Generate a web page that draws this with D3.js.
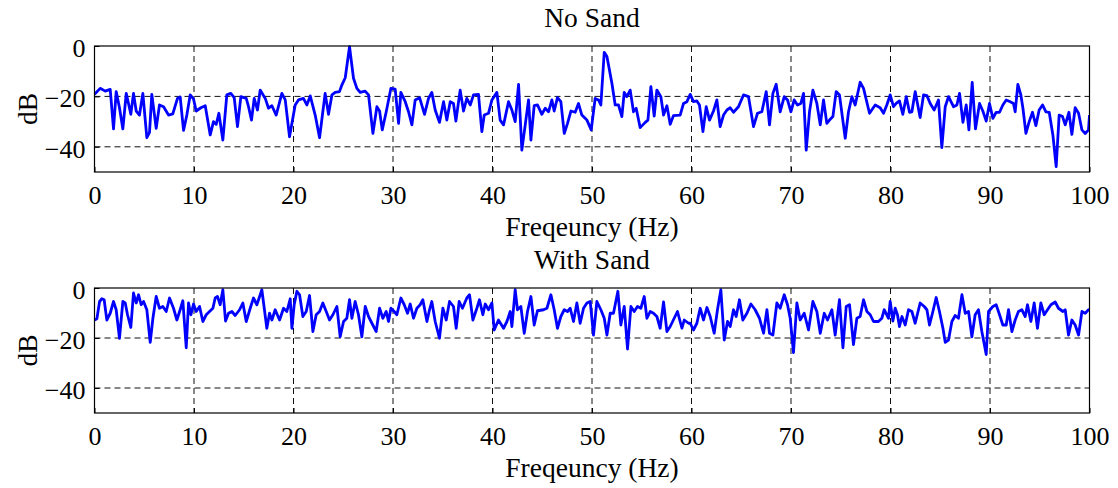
<!DOCTYPE html>
<html>
<head>
<meta charset="utf-8">
<script src="https://cdn.jsdelivr.net/npm/d3@7"></script>
<style>
  body { margin: 0; background: #fff; }
  text { font-family: "Liberation Serif", "Times New Roman", serif; fill: #000; }
</style>
</head>
<body>
<div id="content"></div>
<script>
// values, freq in Hz and level in dB
const topFreq = [0,0.57,1.08,1.58,1.91,2.18,2.51,2.85,3.19,3.45,3.65,3.92,4.19,4.52,4.86,5.26,5.53,5.76,6.2,6.53,6.94,7.44,7.87,8.34,8.61,8.95,9.28,9.62,9.95,10.22,10.69,11.13,11.63,11.96,12.23,12.5,12.9,13.3,13.7,14.04,14.37,14.71,15.25,15.48,15.78,16.05,16.38,16.65,17.16,17.49,17.83,18.26,18.83,19.17,19.6,20.17,20.5,21,21.34,21.68,22.18,22.62,23.18,23.52,23.86,24.19,24.62,24.86,25.2,25.63,26.03,26.37,26.7,27.2,27.54,27.98,28.38,28.65,28.92,29.32,29.79,30.22,30.56,30.79,31.23,31.56,31.9,32.23,32.67,33.17,33.57,33.9,34.24,34.67,35.08,35.41,35.75,36.08,36.32,36.75,37.09,37.42,37.76,38.09,38.59,38.93,39.17,39.6,39.94,40.44,40.77,41.11,41.61,41.95,42.28,42.62,42.95,43.29,43.62,43.86,44.19,44.52,44.96,45.3,45.63,45.97,46.2,46.53,46.87,47.21,47.54,47.88,48.31,48.64,48.98,49.49,49.92,50.32,50.65,50.89,51.23,51.5,52,52.33,52.66,53,53.24,53.5,53.84,54.17,54.44,54.84,55.35,55.62,55.92,56.25,56.52,56.92,57.19,57.53,57.86,58.19,58.86,59.2,59.54,59.87,60.2,60.54,60.8,61.15,61.48,61.81,62.21,62.55,62.88,63.22,63.56,63.89,64.22,64.72,65.23,65.73,66.23,66.63,67.07,67.51,67.84,68.18,68.51,68.91,69.32,69.65,69.99,70.32,70.65,70.99,71.26,71.53,71.86,72.2,72.6,72.94,73.27,73.6,73.87,74.21,74.54,74.87,75.45,75.78,76.12,76.45,76.95,77.29,77.89,78.46,78.96,79.3,79.63,79.97,80.3,80.57,80.9,81.24,81.58,81.91,82.15,82.48,82.98,83.32,83.66,83.99,84.39,84.82,85.16,85.5,85.83,86.33,86.67,86.94,87.28,87.61,87.88,88.21,88.54,88.95,89.28,89.62,89.95,90.29,90.62,90.96,91.29,91.63,92.03,92.36,92.53,92.8,93.1,93.31,93.61,93.94,94.27,94.61,94.94,95.28,95.62,95.95,96.32,96.65,96.95,97.29,97.56,97.93,98.23,98.56,98.9,99.24,99.57,99.9,100];
const topDb = [-19.2,-16.8,-17.9,-17.2,-32.9,-18.1,-24.5,-32.9,-18.8,-23.4,-27.1,-18.8,-25.8,-27.4,-18.8,-36.4,-34.3,-19.2,-32.7,-23.4,-24.1,-27.4,-26.9,-20.8,-20.2,-33.5,-27.4,-19.4,-21,-25.8,-24.5,-23.7,-35.3,-30,-31.1,-26.7,-37.3,-19.4,-18.8,-20.5,-32,-20.1,-20.8,-24.1,-29.4,-20.8,-25.4,-17.5,-20.8,-24.7,-23.7,-27.4,-18.8,-21.4,-36,-23.4,-21.4,-20.8,-23.4,-19.8,-27.4,-36.4,-18.8,-27.1,-19.4,-18.4,-18.1,-15.5,-12.6,-0.3,-12.8,-16.8,-18.4,-17.9,-19.4,-34.7,-24.1,-25.8,-33.3,-26.1,-16.8,-17.1,-30.7,-18.4,-22.1,-26.1,-31.3,-21.4,-20.5,-27.1,-20.8,-18.4,-25.4,-30.3,-22.1,-29.4,-22.1,-22.8,-29.8,-17.5,-25.8,-20.8,-23.4,-19.4,-19.2,-34,-27.4,-26.7,-21.4,-18.4,-29.4,-31.3,-22.1,-25.4,-30,-15.2,-41.3,-31.3,-21.4,-37.3,-23.7,-23.4,-27.1,-24.7,-26.1,-21.4,-25.8,-20.5,-22.1,-34.7,-30.7,-25.8,-26.3,-22.8,-27.4,-29.4,-33.3,-20.8,-21.4,-23.4,-2.5,-4.2,-14.8,-23.4,-23.4,-28,-18.4,-20.1,-17.5,-26.1,-24.7,-32.4,-30.3,-29.4,-16.1,-27.8,-17.5,-20.1,-27.4,-23.7,-31.1,-27.6,-27.4,-22.8,-22.1,-19.2,-22.1,-21.8,-23.4,-34,-24.1,-29.4,-25.8,-21.4,-32,-27.4,-25.4,-24.5,-26.3,-24.1,-19.4,-20.1,-32,-26.7,-26.1,-18.1,-31.3,-18.8,-15.2,-26.1,-20.1,-21.4,-26.1,-21.4,-23.4,-22.8,-18.8,-41.3,-26.1,-17.5,-22.8,-31.3,-21.4,-30.7,-29.4,-28,-18.1,-19.4,-36.6,-26.1,-20.1,-23.4,-14.4,-16.8,-26.7,-23.4,-24.5,-26.7,-23.4,-19.4,-24.1,-22.8,-21.8,-27.1,-20.1,-26.3,-26.1,-18.1,-28.4,-19.4,-19.7,-22.8,-25.4,-21.4,-40.3,-24.1,-20.1,-24.1,-23.4,-18.8,-30.3,-23.4,-33.3,-14.4,-32.9,-22.8,-25.8,-29.8,-22.8,-28.7,-26.3,-26.3,-23.4,-21.4,-22.1,-22.8,-26.1,-15.2,-19.4,-24.7,-34.7,-30,-26.3,-31.6,-25.4,-23.4,-26.1,-26.3,-35.3,-47.9,-27.4,-28,-31.3,-26.3,-35.1,-24.5,-26.7,-33.3,-34.7,-33.3,-27.4];

const botFreq = [0,0.24,0.51,0.74,0.97,1.24,1.58,1.91,2.18,2.51,2.85,3.09,3.32,3.65,3.92,4.19,4.43,4.69,4.93,5.26,5.6,5.87,6.2,6.53,6.87,7.21,7.54,7.94,8.28,8.61,8.88,9.22,9.45,9.69,9.95,10.22,10.56,10.89,11.23,11.56,11.9,12.13,12.36,12.63,12.9,13.17,13.47,13.81,14.14,14.58,14.91,15.25,15.65,15.98,16.32,16.82,17.32,17.59,17.83,18.16,18.6,19,19.33,19.67,19.84,20.07,20.34,20.61,20.94,21.28,21.61,21.95,22.28,22.62,22.95,23.29,23.62,23.96,24.36,24.69,25.03,25.36,25.63,25.87,26.2,26.53,26.87,27.21,27.54,27.88,28.31,28.65,28.98,29.32,29.55,29.79,30.12,30.39,30.79,31.13,31.46,31.73,32.06,32.4,32.73,33,33.41,33.67,33.9,34.24,34.67,35.01,35.35,35.68,36.08,36.35,36.65,36.98,37.42,37.69,38.03,38.43,38.69,39.03,39.27,39.6,39.94,40.17,40.6,41.11,41.45,41.78,41.95,42.28,42.51,42.85,43.19,43.52,43.86,44.19,44.52,45.13,45.47,45.87,46.2,46.53,46.87,47.21,47.54,47.81,48.14,48.48,48.81,49.15,49.49,49.82,50.15,50.49,50.89,51.23,51.5,51.83,52.16,52.6,52.9,53.24,53.57,53.91,54.24,54.57,54.91,55.25,55.52,55.85,56.18,56.52,56.85,57.19,57.53,57.86,58.26,58.59,59.04,59.27,59.7,59.87,60.2,60.54,60.87,61.21,61.55,61.88,62.28,62.61,62.95,63.29,63.62,63.89,64.22,64.49,64.82,65.16,65.57,65.97,66.4,66.83,67.24,67.58,67.84,68.18,68.58,68.91,69.32,69.65,69.92,70.25,70.59,70.92,71.33,71.76,72.2,72.6,72.94,73.34,73.67,74.11,74.44,74.87,75.22,75.55,75.88,76.28,76.62,76.95,77.29,77.63,77.96,78.29,78.79,79.13,79.37,79.8,79.97,80.24,80.47,80.7,80.9,81.15,81.48,81.81,82.15,82.48,82.98,83.39,83.66,83.92,84.26,84.59,84.92,85.27,85.5,85.83,86.17,86.5,86.83,87.18,87.51,87.84,88.18,88.51,88.84,89.18,89.62,89.85,90.29,90.62,90.96,91.29,91.63,91.86,92.2,92.53,92.86,93.2,93.54,93.77,94.11,94.44,94.77,95.11,95.45,95.78,96.12,96.55,96.88,97.33,97.56,97.89,98.23,98.56,98.9,99.24,99.57,99.9,100];
const botDb = [-12.8,-12.3,-5.4,-4.3,-4.7,-12.8,-10.1,-5.4,-8.7,-20.1,-5.4,-6,-10.7,-15.8,-2,-6,-2.7,-6.7,-5.4,-8.7,-21.7,-12.1,-3.4,-8.1,-7.4,-9.4,-4,-8.1,-12.8,-8.7,-5.1,-23.9,-6,-10.7,-6.4,-9.4,-7.4,-13.4,-10.7,-9.4,-8.1,-4,-3.4,-6.7,-0.7,-13.2,-10.1,-9.4,-11,-8.7,-6,-13.4,-8.1,-4,-6.7,-0.7,-16.1,-10.1,-12.8,-8.7,-12.8,-8.1,-9.4,-4.3,-16.1,-6.7,-1.3,-2.7,-11.4,-9.4,-3,-17.4,-10.7,-9.4,-6,-9.4,-12.8,-10.7,-7.4,-19.5,-13.4,-12.1,-4.7,-12.1,-5.4,-10.7,-19.5,-7.4,-11.4,-14.1,-17.4,-8.1,-12.1,-9.4,-13.4,-8.1,-9.4,-10.7,-4,-6.7,-10.1,-6.4,-12.1,-8.1,-6.7,-4.7,-13.4,-8.7,-5.4,-13.4,-20.1,-8.1,-12.8,-5.4,-7.4,-16.1,-5.4,-8.1,-4,-2.7,-12.8,-8.1,-4.7,-10.7,-6.4,-8.7,-6,-16.8,-12.8,-16.1,-13.4,-9.4,-15.4,-0.7,-8.7,-7.4,-18.1,-9.4,-3.4,-14.8,-9.1,-8.7,-8.1,-2.7,-8.7,-16.1,-11.4,-8.7,-9.4,-8.1,-13.4,-6,-14.1,-8.1,-6,-5.4,-18.8,-5.4,-8.7,-12.1,-18.8,-10.1,-10.1,-1.3,-14.8,-7.4,-24.4,-7.4,-9.4,-7.4,-8.1,-3.4,-12.1,-9.4,-10.1,-11.4,-16.1,-5.6,-17.4,-15.4,-12.1,-9.4,-16.1,-12.8,-14.1,-14.1,-16.8,-14.1,-8.1,-12.8,-7.8,-11.4,-18.1,-8.7,-0.7,-20.8,-13.4,-15.4,-8.7,-11.4,-4.7,-12.8,-10.1,-6.4,-8.7,-12.1,-18.1,-8.7,-18.1,-18.8,-6,-8.1,-2.7,-6.7,-12.1,-25.8,-6,-12.8,-10.1,-16.8,-5.4,-9.4,-18.1,-10.1,-12.8,-8.7,-18.8,-4.7,-23.9,-7.4,-6.7,-22.6,-12.1,-11.4,-4.7,-9.4,-10.7,-13.4,-13.4,-12.1,-8.7,-12.1,-5.4,-13.2,-8.1,-10.7,-15.4,-11.4,-14.8,-8.7,-9.4,-14.1,-6,-7.4,-8.7,-14.8,-9.4,-3.8,-9.4,-16.1,-21.7,-20.8,-13.4,-11,-12.1,-2.7,-10.1,-9.4,-19.5,-10.7,-8.7,-17.4,-26.6,-9.4,-7.4,-6.7,-10.7,-14.8,-14.8,-8.7,-17.4,-12.8,-9.4,-8.7,-11.4,-6.7,-13.4,-6,-16.1,-6,-10.7,-8.7,-6.7,-5.6,-8.1,-9.4,-8.7,-18.8,-12.8,-14.8,-18.8,-9.4,-10.1,-8.7,-9];

const xTicks = [0, 10, 20, 30, 40, 50, 60, 70, 80, 90, 100];
const yTicks = [0, -20, -40];
const titles = ["No Sand", "With Sand"];
const xLabel = "Freqeuncy (Hz)";
const yLabel = "dB";

const width = 1118;
const height = 488;
const left = 94.5;
const right = 1089.5;

const svg = d3.select("#content")
    .append("svg")
    .attr("width", width)
    .attr("height", height);

const xScale = d3.scaleLinear().domain([0, 100]).range([left, right]);

const panels = [
    { title: titles[0], top: 46, bottom: 172, freq: topFreq, db: topDb },
    { title: titles[1], top: 288, bottom: 413, freq: botFreq, db: botDb }
];

panels.forEach((p, idx) => {
    const yScale = d3.scaleLinear().domain([-50, 0]).range([p.bottom, p.top]);
    const g = svg.append("g");

    // dashed grid
    g.selectAll(".vgrid")
        .data(xTicks.slice(1, -1))
        .enter()
        .append("line")
        .attr("x1", d => xScale(d)).attr("x2", d => xScale(d))
        .attr("y1", p.top).attr("y2", p.bottom)
        .attr("stroke", "#111")
        .attr("stroke-width", 1)
        .attr("stroke-dasharray", "6,4");
    g.selectAll(".hgrid")
        .data(yTicks.filter(d => d > -50 && d < 0))
        .enter()
        .append("line")
        .attr("x1", left).attr("x2", right)
        .attr("y1", d => yScale(d)).attr("y2", d => yScale(d))
        .attr("stroke", "#111")
        .attr("stroke-width", 1)
        .attr("stroke-dasharray", "6,4");

    const clipId = "clip" + idx;
    svg.append("clipPath").attr("id", clipId)
        .append("rect")
        .attr("x", left).attr("y", p.top - 2)
        .attr("width", right - left).attr("height", p.bottom - p.top + 2);

    const pts = p.freq.map((f, i) => [f, p.db[i]]);
    const line = d3.line()
        .x(d => xScale(d[0]))
        .y(d => yScale(d[1]));

    g.append("path")
        .datum(pts)
        .attr("clip-path", `url(#${clipId})`)
        .attr("d", line)
        .attr("fill", "none")
        .attr("stroke", "#0000ff")
        .attr("stroke-width", 2.8)
        .attr("stroke-linejoin", "round");

    // axes
    const xAxis = d3.axisBottom(xScale).tickValues(xTicks).tickSize(-5).tickPadding(14).tickFormat(d3.format("d"));
    const yAxis = d3.axisLeft(yScale).tickValues(yTicks).tickSize(-5).tickPadding(9).tickFormat(d3.format("d"));

    const gx = g.append("g")
        .attr("transform", `translate(0, ${p.bottom})`)
        .call(xAxis);
    const gy = g.append("g")
        .attr("transform", `translate(${left}, 0)`)
        .call(yAxis);
    [gx, gy].forEach(a => {
        a.select(".domain").remove();
        a.selectAll(".tick line").attr("stroke", "#000");
        a.selectAll("text").style("font-size", "26px").attr("fill", "#000");
    });
    gy.selectAll("text").attr("dy", "0.4em");

    // box
    g.append("rect")
        .attr("x", left).attr("y", p.top)
        .attr("width", right - left).attr("height", p.bottom - p.top)
        .attr("fill", "none")
        .attr("stroke", "#000")
        .attr("stroke-width", 1.2);

    g.append("text")
        .attr("x", (left + right) / 2)
        .attr("y", p.top - 19.5)
        .attr("text-anchor", "middle")
        .style("font-size", "27.5px")
        .text(p.title);

    g.append("text")
        .attr("x", (left + right) / 2)
        .attr("y", p.bottom + 63.5)
        .attr("text-anchor", "middle")
        .style("font-size", "27.5px")
        .text(xLabel);

    g.append("text")
        .attr("transform", `translate(37, ${(p.top + p.bottom) / 2}) rotate(-90)`)
        .attr("text-anchor", "middle")
        .style("font-size", "27.5px")
        .text(yLabel);
});
</script>
</body>
</html>
